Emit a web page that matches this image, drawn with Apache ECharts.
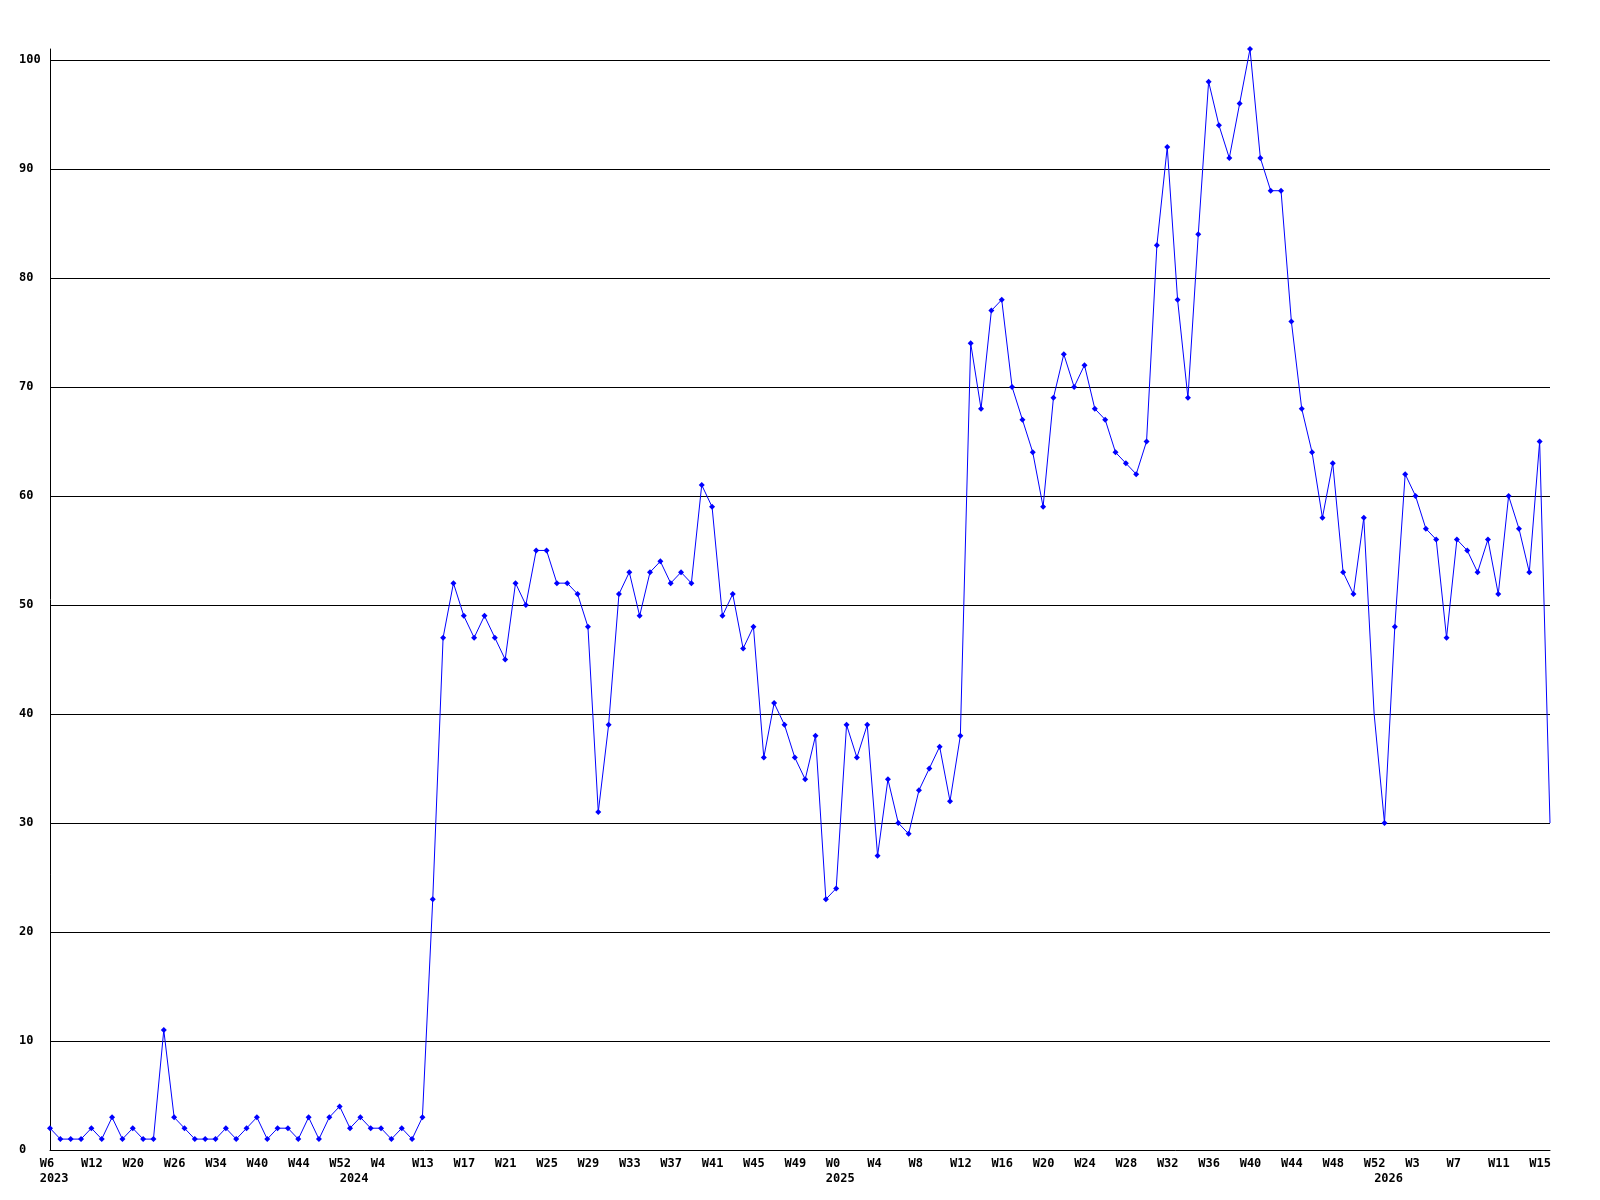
<!DOCTYPE html>
<html><head><meta charset="utf-8">
<script src="https://cdn.jsdelivr.net/npm/echarts@6/dist/echarts.min.js"></script>
<style>html,body{margin:0;padding:0;background:#fff}#c{width:1600px;height:1200px}</style>
</head><body><div id="c"></div>
<script>
// weekly values, one per point
const values = [
  2,1,1,1,2,1,3,1,2,1,1,11,3,2,1,1,1,2,1,2,3,1,2,2,1,3,1,3,4,2,3,2,2,1,2,1,3,
  23,
  47,52,49,47,49,47,45,52,50,55,55,52,52,51,48,31,39,51,53,49,53,54,52,53,52,61,59,49,51,46,48,36,41,39,36,
  34,38,23,24,39,36,39,27,34,30,29,33,35,37,32,38,
  74,68,77,78,70,67,64,59,69,73,70,72,68,67,64,63,62,65,
  83,92,78,69,84,98,94,91,96,101,91,88,88,76,68,64,
  58,63,53,51,58,40,30,48,62,60,57,56,47,56,55,53,56,51,60,57,53,65,30
];
// points drawn without a marker
const unmarked = [128, 145];

// x tick labels: one week label every 4th point, year labels at the first point of each year
const weekLabels = ['W6','W12','W20','W26','W34','W40','W44','W52','W4','W13','W17','W21',
  'W25','W29','W33','W37','W41','W45','W49','W0','W4','W8','W12','W16','W20',
  'W24','W28','W32','W36','W40','W44','W48','W52','W3','W7','W11','W15'];
const labelEvery = 4;
const yearLabels = ['2023','2024','2025','2026'];
const yearStartIdx = [0, 29, 76, 129];

// y axis
const yMin = 0, yMax = 101, yStep = 10;
const yGrid = [10,20,30,40,50,60,70,80,90,100];

const FONT = {fontFamily:'DejaVu Sans Mono', fontWeight:'bold', fontSize:12, color:'#000'};

const lastIdx = values.length - 1;
const G = {left:50, right:50, top:49, bottom:50};
const plotW = 1600 - G.left - G.right;
const step = plotW / lastIdx;
// labels are left-aligned, starting one point before the point they belong to
const labelShift = 1;
const weekPos = weekLabels.map((_, k) => k * labelEvery - labelShift);
const yearPos = yearStartIdx.map(i => i - labelShift);
const labMin = -2;
const nearestIdx = (arr, v) => { let b=0; for (let i=1;i<arr.length;i++) if (Math.abs(arr[i]-v)<Math.abs(arr[b]-v)) b=i; return b; };

const chart = echarts.init(document.getElementById('c'), null, {renderer:'canvas'});
chart.setOption({
  backgroundColor:'#fff',
  animation:false,
  grid:[
    Object.assign({containLabel:false}, G),
    {left: G.left + labMin * step, right: G.right, top: G.top, bottom: G.bottom, containLabel:false}
  ],
  xAxis:[
    {type:'value', gridIndex:0, min:0, max:lastIdx, axisLine:{show:true, lineStyle:{color:'#000', width:1}},
     axisTick:{show:false}, axisLabel:{show:false}, splitLine:{show:false}},
    {type:'value', gridIndex:1, min:labMin, max:lastIdx, position:'bottom', axisLine:{show:false}, axisTick:{show:false}, splitLine:{show:false},
     axisLabel:Object.assign({show:true, customValues:weekPos, margin:8, align:'left',
       formatter:(v)=>weekLabels[nearestIdx(weekPos, v)]}, FONT)},
    {type:'value', gridIndex:1, min:labMin, max:lastIdx, position:'bottom', axisLine:{show:false}, axisTick:{show:false}, splitLine:{show:false},
     axisLabel:Object.assign({show:true, customValues:yearPos, margin:23, align:'left',
       formatter:(v)=>yearLabels[nearestIdx(yearPos, v)]}, FONT)}
  ],
  yAxis:[
    {type:'value', gridIndex:0, min:yMin, max:yMax, interval:yStep,
     axisLine:{show:true, lineStyle:{color:'#000', width:1}}, axisTick:{show:false}, splitLine:{show:false},
     axisLabel:Object.assign({align:'left', margin:31, showMaxLabel:false}, FONT)},
    {type:'value', gridIndex:1, min:yMin, max:yMax, show:false}
  ],
  series:[{
    type:'line', xAxisIndex:0, yAxisIndex:0,
    data: values.map((v,i)=> unmarked.includes(i) ? {value:[i,v], symbol:'none'} : [i,v]),
    symbol:'diamond', symbolSize:6, showAllSymbol:true,
    lineStyle:{color:'#0000ff', width:1}, itemStyle:{color:'#0000ff'},
    emphasis:{disabled:true}, silent:true, z:3,
    markLine:{silent:true, symbol:['none','none'], label:{show:false},
      lineStyle:{color:'#000', width:1, type:'solid'}, emphasis:{disabled:true},
      data: yGrid.map(v=>({yAxis:v})), z:1}
  }]
});
</script></body></html>
